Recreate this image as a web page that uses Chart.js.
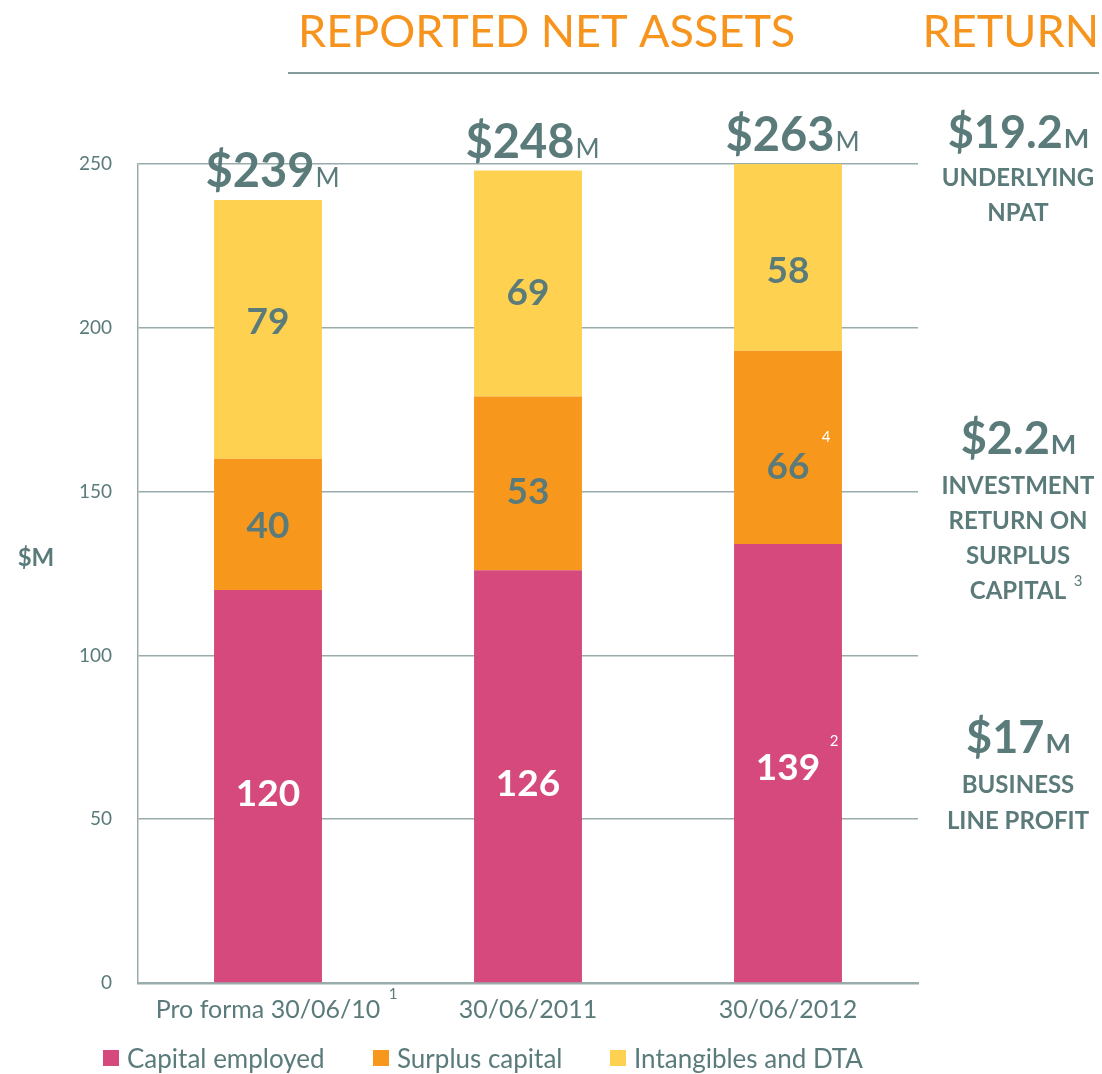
<!DOCTYPE html>
<html>
<head>
<meta charset="utf-8">
<script src="https://cdn.jsdelivr.net/npm/chart.js@4.4.1/dist/chart.umd.min.js"></script>
<style>
  html, body { margin: 0; padding: 0; background: #fff; }
  #wrap { position: relative; width: 1102px; height: 1074px; }
</style>
</head>
<body>
<div id="wrap"><canvas id="netAssets" width="1102" height="1074"></canvas></div>
<script>
// categories and values (bar heights as drawn, labels as printed)
const categories = ["Pro forma 30/06/10", "30/06/2011", "30/06/2012"];
const capitalEmployed = [120, 126, 134];
const surplusCapital = [40, 53, 59];
const intangiblesDta = [79, 69, 58];
const capitalText = ["120", "126", "139"];
const surplusText = ["40", "53", "66"];
const intangiblesText = ["79", "69", "58"];
const totalText = ["$239", "$248", "$263"];
const totals = [239, 248, 263];
const yTicks = [0, 50, 100, 150, 200, 250];

const TEAL = "#5B7B7B";
const GRID = "#9AABAB";
const FONT = "Lato, 'Open Sans', sans-serif";

// label nudges (px) so they sit where the original put them
const labelNudge = [[7, 7, 4], [1, 8, 19], [-8, 8, 13]];

const drawText = (ctx, txt, x, y, font, color, align) => {
  ctx.font = font;
  ctx.fillStyle = color;
  ctx.textAlign = align || "center";
  ctx.textBaseline = "alphabetic";
  ctx.fillText(txt, x, y);
};

// big number + small "M" centred as one unit
const drawAmount = (ctx, num, x, y, numFont, mFont) => {
  ctx.font = numFont;
  const w1 = ctx.measureText(num).width;
  ctx.font = mFont;
  const w2 = ctx.measureText("M").width;
  const left = x - (w1 + w2) / 2;
  drawText(ctx, num, left, y, numFont, TEAL, "left");
  drawText(ctx, "M", left + w1 + 1, y, mFont, TEAL, "left");
};

const annotations = {
  id: "annotations",
  afterDraw(chart) {
    const ctx = chart.ctx;
    const xs = chart.scales.x;
    const ys = chart.scales.y;
    const top = ys.max;
    ctx.save();

    // header
    drawText(ctx, "REPORTED NET ASSETS", 298, 47, "400 45px " + FONT, "#F7941D", "left");
    drawText(ctx, "RETURN", 1099, 47, "400 45px " + FONT, "#F7941D", "right");
    ctx.strokeStyle = TEAL;
    ctx.lineWidth = 1.5;
    ctx.beginPath();
    ctx.moveTo(288, 73);
    ctx.lineTo(1099, 73);
    ctx.stroke();

    // segment labels
    const sets = [
      [0, capitalText, "#fff"],
      [1, surplusText, TEAL],
      [2, intangiblesText, TEAL]
    ];
    sets.forEach(([di, texts, color]) => {
      const meta = chart.getDatasetMeta(di);
      meta.data.forEach((bar, i) => {
        const yTop = Math.max(bar.y, ys.getPixelForValue(top));
        const cy = (yTop + bar.base) / 2 + labelNudge[di][i];
        drawText(ctx, texts[i], bar.x, cy + 13, "bold 37px " + FONT, color);
      });
    });

    // totals above bars
    totals.forEach((t, i) => {
      const x = xs.getPixelForValue(i) + 4;
      const y = ys.getPixelForValue(Math.min(t, top)) - 13;
      drawAmount(ctx, totalText[i], x, y, "bold 47px " + FONT, "26px " + FONT);
    });

    // footnote marks
    drawText(ctx, "1", 393, 999, "15px " + FONT, TEAL);
    drawText(ctx, "4", 826, 442, "15px " + FONT, "#fff");
    drawText(ctx, "2", 834, 746, "15px " + FONT, "#fff");
    drawText(ctx, "3", 1078, 586, "15px " + FONT, TEAL);

    // right column
    const rx = 1018;
    drawAmount(ctx, "$19.2", rx, 148, "bold 45px " + FONT, "bold 27px " + FONT);
    drawText(ctx, "UNDERLYING", rx, 186, "bold 24px " + FONT, TEAL);
    drawText(ctx, "NPAT", rx, 221, "bold 24px " + FONT, TEAL);
    drawAmount(ctx, "$2.2", rx, 454, "bold 45px " + FONT, "bold 27px " + FONT);
    drawText(ctx, "INVESTMENT", rx, 494, "bold 24px " + FONT, TEAL);
    drawText(ctx, "RETURN ON", rx, 529, "bold 24px " + FONT, TEAL);
    drawText(ctx, "SURPLUS", rx, 564, "bold 24px " + FONT, TEAL);
    drawText(ctx, "CAPITAL", rx, 599, "bold 24px " + FONT, TEAL);
    drawAmount(ctx, "$17", rx, 753, "bold 45px " + FONT, "bold 27px " + FONT);
    drawText(ctx, "BUSINESS", rx, 793, "bold 24px " + FONT, TEAL);
    drawText(ctx, "LINE PROFIT", rx, 829, "bold 24px " + FONT, TEAL);

    // axis title
    drawText(ctx, "$M", 36, 566, "bold 24px " + FONT, TEAL);

    // legend
    const legendX = [103, 373, 610];
    chart.data.datasets.forEach((ds, i) => {
      ctx.fillStyle = ds.backgroundColor;
      ctx.fillRect(legendX[i], 1050, 16, 16);
      drawText(ctx, ds.label, legendX[i] + 24, 1068, "26px " + FONT, TEAL, "left");
    });

    ctx.restore();
  }
};

new Chart(document.getElementById("netAssets").getContext("2d"), {
  type: "bar",
  data: {
    labels: categories,
    datasets: [
      { label: "Capital employed", data: capitalEmployed, backgroundColor: "#D5497C" },
      { label: "Surplus capital", data: surplusCapital, backgroundColor: "#F7981D" },
      { label: "Intangibles and DTA", data: intangiblesDta, backgroundColor: "#FED150" }
    ]
  },
  options: {
    responsive: false,
    animation: false,
    layout: { padding: { top: 164, right: 184, left: 0, bottom: 0 } },
    datasets: { bar: { barPercentage: 0.415, categoryPercentage: 1 } },
    plugins: { legend: { display: false }, tooltip: { enabled: false } },
    scales: {
      x: {
        stacked: true,
        grid: { display: false, drawTicks: false },
        border: { color: GRID, width: 2.5 },
        ticks: { color: TEAL, font: { family: FONT, size: 25 }, padding: 12, maxRotation: 0 },
        afterFit: (s) => { s.height = 91; }
      },
      y: {
        stacked: true,
        min: 0,
        max: 250,
        afterBuildTicks: (s) => { s.ticks = yTicks.map((v) => ({ value: v })); },
        grid: { color: GRID, lineWidth: 1.5, drawTicks: false },
        border: { color: GRID, width: 1.5 },
        ticks: { color: TEAL, font: { family: FONT, size: 19 }, padding: 26 },
        afterFit: (s) => { s.width = 138; }
      }
    }
  },
  plugins: [annotations]
});
</script>
</body>
</html>
